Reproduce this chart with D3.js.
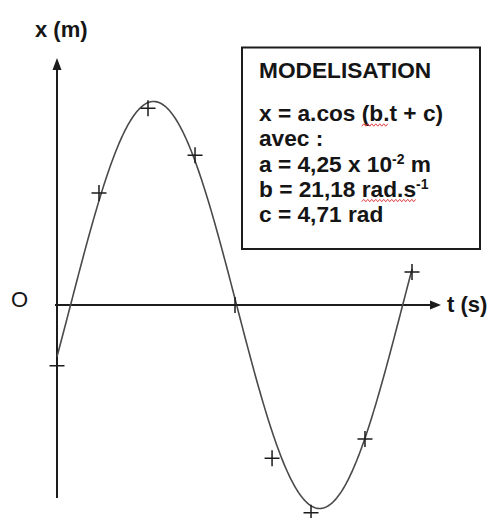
<!DOCTYPE html>
<html>
<head>
<meta charset="utf-8">
<script src="https://cdn.jsdelivr.net/npm/d3@7"></script>
<style>
  html, body { margin: 0; padding: 0; background: #fff; }
  svg { display: block; }
  text { font-family: "Liberation Sans", Arial, sans-serif; fill: #151515; }
</style>
</head>
<body>
<svg id="chart" width="492" height="518"></svg>
<script>
// Measured positions of the oscillator (time in s, elongation in m)
const tMeasured = [-0.012, 0.0255, 0.0693, 0.1113, 0.1470, 0.1801, 0.2149, 0.2631, 0.3051];
const xMeasured = [-0.0127, 0.0234, 0.0411, 0.0313, 0.0000, -0.0320, -0.0434, -0.0280, 0.0069];

// Model parameters: x = a.cos(b.t + c)
const a = 4.25e-2;   // m
const b = 21.18;     // rad.s-1
const c = 4.71;      // rad

// Time window shown on the t axis
const tDomain = [-0.012, 0.331];

// Texts
const xAxisLabel = "x (m)";
const tAxisLabel = "t (s)";
const originLabel = "O";
const boxTitle = "MODELISATION";
const boxLines = [
  [{ s: "x = a.cos (b.t + c)" }],
  [{ s: "avec :" }],
  [{ s: "a = 4,25 x 10" }, { s: "-2", sup: true }, { s: " m" }],
  [{ s: "b = 21,18 rad.s" }, { s: "-1", sup: true }],
  [{ s: "c = 4,71 rad" }]
];
// Words flagged by the spell checker: [line index, first char, length]
const flagged = [[0, 10, 3], [3, 10, 5]];

const svg = d3.select("#chart");

const xScale = d3.scaleLinear().domain(tDomain).range([57, 441]);
const yScale = d3.scaleLinear().domain([-a, a]).range([508.5, 101.5]);

const axisColor = "#1c1c1c";
const x0 = xScale(tDomain[0]);
const y0 = yScale(0);

// Axes with arrow heads
const axes = svg.append("g");
axes.append("line")
  .attr("x1", x0).attr("x2", x0)
  .attr("y1", 498).attr("y2", 66)
  .attr("stroke", axisColor).attr("stroke-width", 2);
axes.append("path")
  .attr("d", `M${x0},58 L${x0 - 4.5},70 L${x0 + 4.5},70 Z`)
  .attr("fill", axisColor);

const xEnd = xScale(tDomain[1]);
axes.append("line")
  .attr("x1", x0 - 2).attr("x2", xEnd - 6)
  .attr("y1", y0).attr("y2", y0)
  .attr("stroke", axisColor).attr("stroke-width", 2);
axes.append("path")
  .attr("d", `M${xEnd},${y0} L${xEnd - 11},${y0 - 4.5} L${xEnd - 11},${y0 + 4.5} Z`)
  .attr("fill", axisColor);

// Axis labels
svg.append("text").attr("x", 35).attr("y", 37)
  .attr("font-size", 22).attr("font-weight", "bold").text(xAxisLabel);
svg.append("text").attr("x", 447).attr("y", 312)
  .attr("font-size", 22).attr("font-weight", "bold").text(tAxisLabel);
svg.append("text").attr("x", 11).attr("y", 307)
  .attr("font-size", 22).text(originLabel);

// Model curve
const tLast = tMeasured[tMeasured.length - 1];
const samples = d3.range(tDomain[0], tLast, 0.001).concat([tLast])
  .map(t => [t, a * Math.cos(b * t + c)]);
svg.append("path")
  .datum(samples)
  .attr("fill", "none")
  .attr("stroke", "#4a4a4a")
  .attr("stroke-width", 1.6)
  .attr("d", d3.line().x(d => xScale(d[0])).y(d => yScale(d[1])));

// Measured points drawn as crosses
svg.append("g").selectAll("path")
  .data(d3.zip(tMeasured, xMeasured))
  .join("path")
  .attr("transform", d => `translate(${xScale(d[0])},${yScale(d[1])})`)
  .attr("d", "M-7.5,0H7.5M0,-8V8")
  .attr("stroke", "#1c1c1c")
  .attr("stroke-width", 1.5)
  .attr("fill", "none");

// Model box
const box = svg.append("g");
box.append("rect")
  .attr("x", 242).attr("y", 47.5)
  .attr("width", 238).attr("height", 201.5)
  .attr("fill", "#fff")
  .attr("stroke", "#1c1c1c").attr("stroke-width", 2);

const boxFont = 22.7;
box.append("text").attr("x", 259).attr("y", 78)
  .attr("font-size", boxFont).attr("font-weight", "bold").text(boxTitle);

const baselines = [121, 146, 171.5, 196.5, 221.5];
const lineNodes = boxLines.map((parts, i) => {
  const t = box.append("text")
    .attr("x", 259).attr("y", baselines[i])
    .attr("font-size", boxFont).attr("font-weight", "bold");
  let raised = false;
  parts.forEach(p => {
    const span = t.append("tspan").text(p.s);
    if (p.sup && !raised) { span.attr("dy", -8).attr("font-size", 14); raised = true; }
    else if (!p.sup && raised) { span.attr("dy", 8); raised = false; }
  });
  return t.node();
});

// Red wavy underlines
flagged.forEach(([li, start, len]) => {
  const node = lineNodes[li];
  const xs = node.getStartPositionOfChar(start).x;
  const xe = node.getEndPositionOfChar(start + len - 1).x;
  const yb = baselines[li] + 4;
  const pts = d3.range(xs, xe + 0.01, 2).map((x, k) => [x, yb + (k % 2 ? -1.2 : 1.2)]);
  box.append("path")
    .attr("d", d3.line()(pts))
    .attr("fill", "none")
    .attr("stroke", "#e0393e")
    .attr("stroke-width", 1);
});
</script>
</body>
</html>
